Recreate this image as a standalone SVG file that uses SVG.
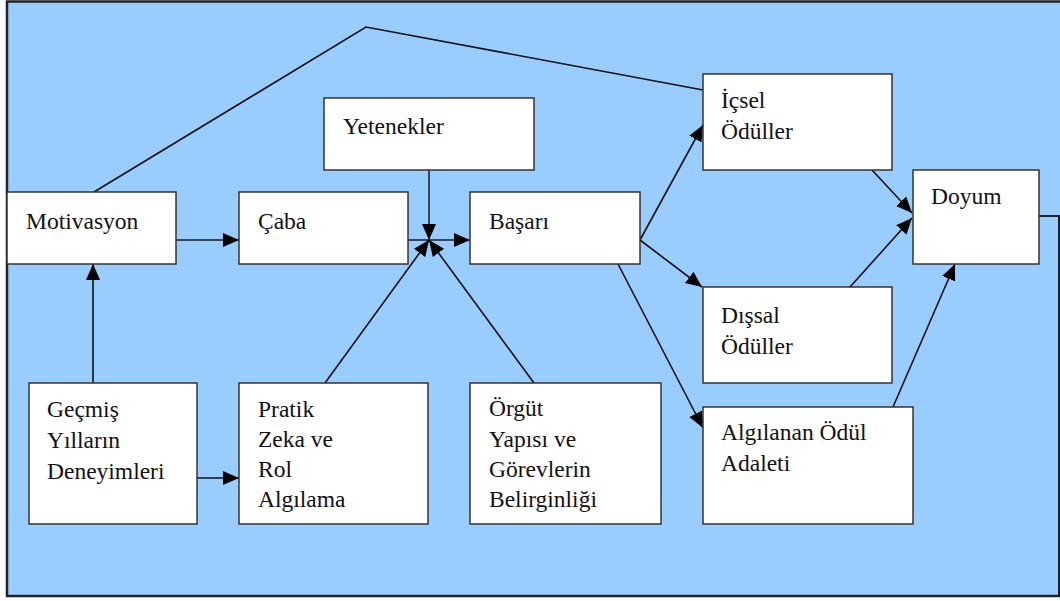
<svg xmlns="http://www.w3.org/2000/svg" width="1060" height="601" viewBox="0 0 1060 601">
<style>
.box{fill:#fff;stroke:#333;stroke-width:1.5}
.t{font-size:23.5px;fill:#111}
.c{fill:none;stroke:#111;stroke-width:1.6}
.cs{fill:none;stroke:#3a4856;stroke-width:2}
</style>
<defs>
<marker id="ah" markerUnits="userSpaceOnUse" markerWidth="18" markerHeight="16" refX="16" refY="7" orient="auto">
<path d="M0,0 L16,7 L0,14 Z" fill="#000"/>
</marker>
</defs>
<rect x="7" y="1" width="1053" height="595" fill="#99CCFF"/>
<path d="M1060,1.5 H7 V596 H1060" fill="none" stroke="#222" stroke-width="2.5"/>
<g id="connectors">
<polyline class="c" points="94,192 366,27 703,90"/>
<line class="cs" x1="176" y1="240" x2="239" y2="240" marker-end="url(#ah)"/>
<line class="c" x1="93" y1="383" x2="93" y2="264" marker-end="url(#ah)"/>
<line class="c" x1="197" y1="478" x2="239" y2="478" marker-end="url(#ah)"/>
<line class="cs" x1="408" y1="240" x2="470" y2="240" marker-end="url(#ah)"/>
<line class="cs" x1="429" y1="170" x2="429" y2="240" marker-end="url(#ah)"/>
<line class="c" x1="325" y1="383" x2="429" y2="240" marker-end="url(#ah)"/>
<line class="c" x1="534" y1="383" x2="429" y2="240" marker-end="url(#ah)"/>
<line class="c" x1="640" y1="240" x2="703" y2="125" marker-end="url(#ah)"/>
<line class="c" x1="640" y1="240" x2="702" y2="287" marker-end="url(#ah)"/>
<line class="c" x1="618" y1="264" x2="703" y2="428" marker-end="url(#ah)"/>
<line class="c" x1="872" y1="170" x2="912" y2="213" marker-end="url(#ah)"/>
<line class="c" x1="850" y1="287" x2="912" y2="218" marker-end="url(#ah)"/>
<line class="c" x1="893" y1="407" x2="955" y2="264" marker-end="url(#ah)"/>
<polyline points="1039,216 1059,216 1059,596" fill="none" stroke="#222" stroke-width="2"/>
</g>
<g font-family="'Liberation Serif', 'Times New Roman', 'DejaVu Serif', serif">
<g id="motivasyon"><rect class="box" x="7" y="192" width="169" height="72"/><text class="t" x="26" y="229">Motivasyon</text></g>
<g id="caba"><rect class="box" x="239" y="192" width="169" height="72"/><text class="t" x="258" y="229">Çaba</text></g>
<g id="yetenekler"><rect class="box" x="324" y="98" width="210" height="72"/><text class="t" x="343" y="134">Yetenekler</text></g>
<g id="basari"><rect class="box" x="470" y="192" width="170" height="72"/><text class="t" x="489" y="229">Başarı</text></g>
<g id="icsel"><rect class="box" x="703" y="74" width="189" height="96"/><text class="t" x="721" y="108">İçsel</text><text class="t" x="721" y="139">Ödüller</text></g>
<g id="doyum"><rect class="box" x="913" y="170" width="126" height="94"/><text class="t" x="931" y="204">Doyum</text></g>
<g id="dissal"><rect class="box" x="703" y="287" width="189" height="96"/><text class="t" x="721" y="323">Dışsal</text><text class="t" x="721" y="354">Ödüller</text></g>
<g id="algilanan"><rect class="box" x="703" y="407" width="210" height="117"/><text class="t" x="721" y="440">Algılanan Ödül</text><text class="t" x="721" y="471">Adaleti</text></g>
<g id="gecmis"><rect class="box" x="29" y="383" width="168" height="141"/><text class="t" x="47" y="417">Geçmiş</text><text class="t" x="47" y="448">Yılların</text><text class="t" x="47" y="479">Deneyimleri</text></g>
<g id="pratik"><rect class="box" x="239" y="383" width="189" height="141"/><text class="t" x="258" y="417">Pratik</text><text class="t" x="258" y="447">Zeka ve</text><text class="t" x="258" y="477">Rol</text><text class="t" x="258" y="507">Algılama</text></g>
<g id="orgut"><rect class="box" x="470" y="383" width="191" height="141"/><text class="t" x="489" y="416">Örgüt</text><text class="t" x="489" y="447">Yapısı ve</text><text class="t" x="489" y="477">Görevlerin</text><text class="t" x="489" y="507">Belirginliği</text></g>
</g>
</svg>
